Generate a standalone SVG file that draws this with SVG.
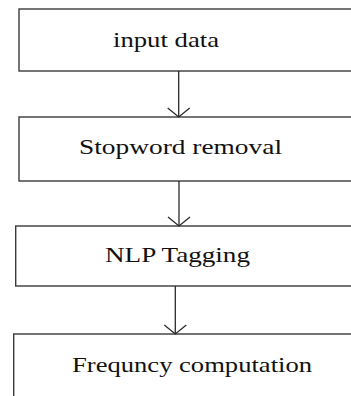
<svg xmlns="http://www.w3.org/2000/svg" width="351" height="396" viewBox="0 0 351 396">
  <style>
    .box { fill: #ffffff; stroke: #3a3a3a; stroke-width: 1.4; }
    .label { font-family: 'Liberation Serif', 'Times New Roman', serif; font-size: 22px; fill: #111111; }
    .link { stroke: #2a2a2a; stroke-width: 1.3; fill: none; }
  </style>
  <defs>
    <!-- open V arrowhead used at the end of each connector -->
    <marker id="vee" markerUnits="userSpaceOnUse" viewBox="-14 -14 28 28" refX="0" refY="0" markerWidth="28" markerHeight="28" orient="auto">
      <path d="M-9,-11 L0,0 L-9,11" fill="none" stroke="#2a2a2a" stroke-width="1.3"/>
    </marker>
  </defs>
  <rect width="351" height="396" fill="#ffffff"/>

  <g id="node-input">
    <rect class="box" x="19" y="9" width="345" height="62"/>
    <text class="label" x="113" y="47" textLength="106" lengthAdjust="spacingAndGlyphs">input data</text>
  </g>

  <g id="node-stopword">
    <rect class="box" x="19" y="117" width="345" height="64"/>
    <text class="label" x="79" y="154" textLength="203" lengthAdjust="spacingAndGlyphs">Stopword removal</text>
  </g>

  <g id="node-nlp">
    <rect class="box" x="15.7" y="226" width="345" height="60"/>
    <text class="label" x="105" y="262" textLength="145" lengthAdjust="spacingAndGlyphs">NLP Tagging</text>
  </g>

  <g id="node-frequency">
    <rect class="box" x="13.7" y="334" width="345" height="80"/>
    <text class="label" x="72" y="372" textLength="240" lengthAdjust="spacingAndGlyphs">Frequncy computation</text>
  </g>

  <g id="connectors">
    <line class="link" x1="178.7" y1="71" x2="178.7" y2="117" marker-end="url(#vee)"/>
    <line class="link" x1="179" y1="181" x2="179" y2="226" marker-end="url(#vee)"/>
    <line class="link" x1="175.3" y1="286" x2="175.3" y2="334" marker-end="url(#vee)"/>
  </g>
</svg>
